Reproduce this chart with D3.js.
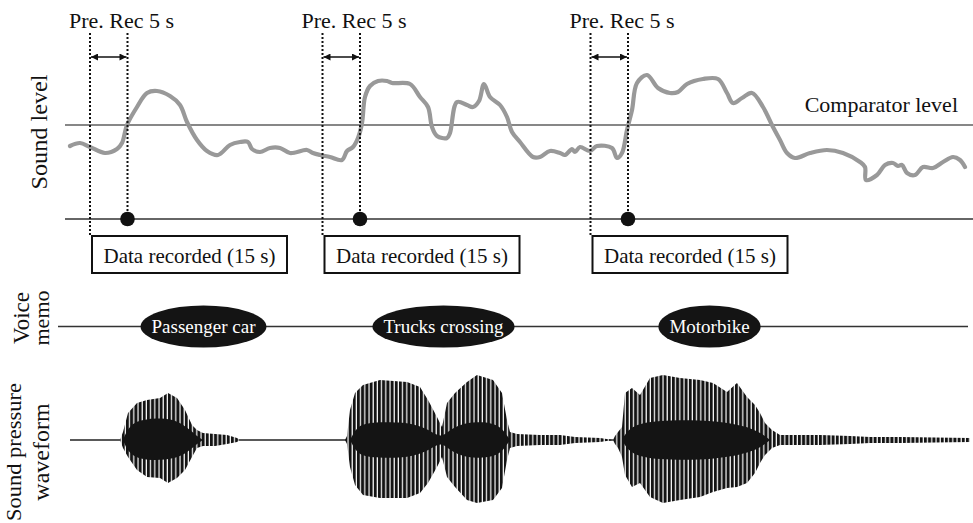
<!DOCTYPE html>
<html><head><meta charset="utf-8">
<script src="https://cdn.jsdelivr.net/npm/d3@7"></script>
<style>
html,body{margin:0;padding:0;background:#fff;}
svg{display:block;}
svg text{font-family:"Liberation Serif","Times New Roman","DejaVu Serif",serif;}
</style>
</head><body><div id="chart"></div>
<script>
// ---- data (time in arbitrary units, level in arbitrary units) ----
const soundLevel = [
 [5,73],[15,76],[25,72],[40,66],[52,70],[57,76],[62,94],[72,112],[82,126],[92,128],
 [105,123],[115,114],[122,97],[132,79],[142,68],[153,64],[165,74],[175,77],[183,77],[187,70],
 [195,67],[205,71],[215,71],[225,66],[242,69],[248,66],[255,64],[265,62],[277,59],[282,68],
 [288,72],[293,81],[297,96],[300,122],[305,133],[313,138],[322,138],[327,136],[345,135],[355,122],
 [363,112],[367,92],[372,83],[382,81],[385,86],[392,117],[402,114],[408,112],[414,118],[419,135],
 [425,122],[435,114],[442,102],[447,87],[455,77],[468,62],[475,62],[485,68],[495,66],[500,64],
 [507,70],[510,67],[515,72],[525,68],[532,73],[547,71],[552,61],[557,66],[562,89],[567,109],
 [572,136],[582,144],[593,131],[605,126],[613,127],[622,135],[638,140],[653,140],[662,126],[668,116],
 [677,121],[687,126],[698,112],[708,92],[715,79],[722,66],[730,61],[745,66],[762,69],[778,66],
 [795,57],[800,52],[801,39],[812,44],[820,54],[828,56],[833,53],[837,54],[842,46],[850,44],
 [858,52],[868,51],[878,57],[888,62],[895,59],[900,52]
];
const comparatorLevel = 94;
const triggerTimes = [62.5, 295, 563];
const preRecDuration = 37.5;          // 5 s
const preRecLabel = "Pre. Rec 5 s";
const recordLabel = "Data recorded (15 s)";
const comparatorLabel = "Comparator level";

const memoTimes = [138.5, 378.5, 644.5];
const memoLabels = ["Passenger car", "Trucks crossing", "Motorbike"];

// waveform envelopes: [time, upper, lower]
const waveCar = [
 [55,0,0],[58,8,-8],[63,27,-17],[72,37,-30],[82,40,-37],[95,42,-38],[103,47,-43],[112,42,-38],
 [120,30,-30],[127,15,-17],[132,10,-8],[138,7,-6],[150,6,-6],[162,5,-4],[172,2,-2],[175,0,0]
];
const waveTrucks = [
 [280,0,0],[282,4,-4],[285,30,-27],[290,47,-45],[298,55,-55],[315,60,-58],[342,58,-58],[355,53,-53],
 [363,40,-43],[372,23,-27],[377,13,-17],[382,37,-37],[390,47,-47],[402,58,-60],[412,65,-63],[428,60,-60],
 [437,47,-48],[442,20,-20],[445,8,-8],[452,6,-6],[475,5,-5],[495,5,-5],[510,3,-3],[535,2,-2],[548,0,0]
];
const waveMotorbike = [
 [548,0,0],[550,4,-4],[553,8,-8],[557,13,-17],[560,47,-35],[567,52,-47],[575,45,-43],[585,62,-57],
 [598,65,-63],[615,62,-60],[635,60,-57],[648,57,-52],[662,48,-48],[672,57,-47],[682,43,-43],[690,35,-33],
 [695,27,-23],[700,17,-15],[707,10,-8],[715,5,-5],[755,5,-5],[785,4,-4],[805,3,-3],[835,3,-3],[905,2,-2]
];
const coreCar = [[58,0,0],[63,12,-12],[72,19,-18],[82,21,-20],[100,22,-20],[115,18,-17],[125,10,-10],[133,3,-3],[138,0,0]];
const coreTrucks = [[285,0,0],[292,14,-14],[305,18,-18],[340,18,-18],[358,13,-13],[370,6,-6],[377,3,-3],[385,10,-10],[400,18,-18],[430,18,-18],[440,8,-8],[445,0,0]];
const coreMotorbike = [[557,0,0],[565,14,-14],[590,20,-20],[650,20,-20],[690,12,-12],[705,0,0]];

// ---- layout ----
const W = 973, H = 523;
const svg = d3.select("#chart").append("svg").attr("width", W).attr("height", H)
  .attr("font-family", "'Liberation Serif','Times New Roman','DejaVu Serif',serif");
const defs = svg.append("defs");

const x = d3.scaleLinear().domain([0, 908]).range([65, 973]);
const yLevel = d3.scaleLinear().domain([0, 200]).range([219, 19]);
const yWave = d3.scaleLinear().domain([-70, 70]).range([510, 370]);
const memoY = 326.5;

defs.append("marker").attr("id","arr").attr("viewBox","0 0 10 10")
  .attr("refX",10).attr("refY",5).attr("markerWidth",10).attr("markerHeight",7)
  .attr("markerUnits","userSpaceOnUse").attr("orient","auto-start-reverse")
  .append("path").attr("d","M0,0L10,5L0,10z").attr("fill","#111");
const pat = defs.append("pattern").attr("id","stripes").attr("patternUnits","userSpaceOnUse")
  .attr("width",4.2).attr("height",10);
pat.append("rect").attr("width",4.2).attr("height",10).attr("fill","#141414");
pat.append("rect").attr("x",3).attr("width",1.2).attr("height",10).attr("fill","#fff");

// ---- Sound level panel ----
const [x0, x1] = x.range();
svg.append("line").attr("x1",x0).attr("x2",x1)
  .attr("y1",yLevel(comparatorLevel)).attr("y2",yLevel(comparatorLevel))
  .attr("stroke","#111").attr("stroke-width",1.1);
svg.append("line").attr("x1",x0).attr("x2",x1)
  .attr("y1",yLevel(0)).attr("y2",yLevel(0))
  .attr("stroke","#333").attr("stroke-width",1.4);

svg.append("text").attr("x",958).attr("y",112).attr("text-anchor","end")
  .attr("font-size",22).attr("fill","#111").text(comparatorLabel);

svg.append("path").datum(soundLevel)
  .attr("d", d3.line().x(d=>x(d[0])).y(d=>yLevel(d[1])).curve(d3.curveCatmullRom.alpha(0.5)))
  .attr("fill","none").attr("stroke","#999").attr("stroke-width",4.2)
  .attr("stroke-linejoin","round").attr("stroke-linecap","round");

triggerTimes.forEach(t => {
  const xs = x(t - preRecDuration), xt = x(t);
  svg.append("line").attr("x1",xs).attr("x2",xs).attr("y1",33).attr("y2",236)
    .attr("stroke","#111").attr("stroke-width",2).attr("stroke-dasharray","2,2");
  svg.append("line").attr("x1",xt).attr("x2",xt).attr("y1",33).attr("y2",yLevel(0))
    .attr("stroke","#111").attr("stroke-width",2).attr("stroke-dasharray","2,2");
  svg.append("line").attr("x1",xs+1).attr("x2",xt-1).attr("y1",57).attr("y2",57)
    .attr("stroke","#111").attr("stroke-width",1.6)
    .attr("marker-start","url(#arr)").attr("marker-end","url(#arr)");
  svg.append("text").attr("x",xs-21).attr("y",28).attr("font-size",22).attr("fill","#111").text(preRecLabel);
  svg.append("circle").attr("cx",xt).attr("cy",yLevel(0)).attr("r",7.3).attr("fill","#111");
  svg.append("rect").attr("x",xs+2).attr("y",236).attr("width",195).attr("height",37)
    .attr("fill","#fff").attr("stroke","#111").attr("stroke-width",2);
  svg.append("text").attr("x",xs+2+97.5).attr("y",263).attr("text-anchor","middle")
    .attr("font-size",21).attr("fill","#111").text(recordLabel);
});

function vlabel(txt, bx, cy, size, len) {
  const t = svg.append("text").attr("transform",`translate(${bx},${cy}) rotate(-90)`)
    .attr("text-anchor","middle").attr("font-size",size).attr("fill","#111").text(txt);
  if (len) t.attr("textLength",len).attr("lengthAdjust","spacingAndGlyphs");
  return t;
}
vlabel("Sound level", 47, 132, 24, 115);
vlabel("Voice", 29, 318, 23);
vlabel("memo", 49, 318, 22);
vlabel("Sound pressure", 21, 452, 22, 138);
vlabel("waveform", 49, 452, 24);

// ---- Voice memo ----
svg.append("line").attr("x1",58).attr("x2",968).attr("y1",memoY).attr("y2",memoY)
  .attr("stroke","#333").attr("stroke-width",1.6);
memoTimes.forEach((t,i) => {
  const g = svg.append("g");
  const el = g.append("ellipse").attr("cx",x(t)).attr("cy",memoY).attr("ry",21).attr("fill","#141414");
  const tx = g.append("text").attr("x",x(t)).attr("y",memoY+6.5).attr("text-anchor","middle")
    .attr("font-size",19).attr("fill","#fff").text(memoLabels[i]);
  el.attr("rx", tx.node().getComputedTextLength()/2 + 11);
});

// ---- Waveform ----
svg.append("line").attr("x1",x(5)).attr("x2",x(905)).attr("y1",yWave(0)).attr("y2",yWave(0))
  .attr("stroke","#222").attr("stroke-width",1.3);
const area = d3.area().x(d=>x(d[0])).y0(d=>yWave(d[2])).y1(d=>yWave(d[1]));
[waveCar, waveTrucks, waveMotorbike].forEach(w => {
  svg.append("path").datum(w).attr("d",area).attr("fill","url(#stripes)");
});
const coreArea = d3.area().x(d=>x(d[0])).y0(d=>yWave(d[2])).y1(d=>yWave(d[1])).curve(d3.curveBasis);
[coreCar, coreTrucks, coreMotorbike].forEach(w => {
  svg.append("path").datum(w).attr("d",coreArea).attr("fill","#141414");
});
</script>
</body></html>
